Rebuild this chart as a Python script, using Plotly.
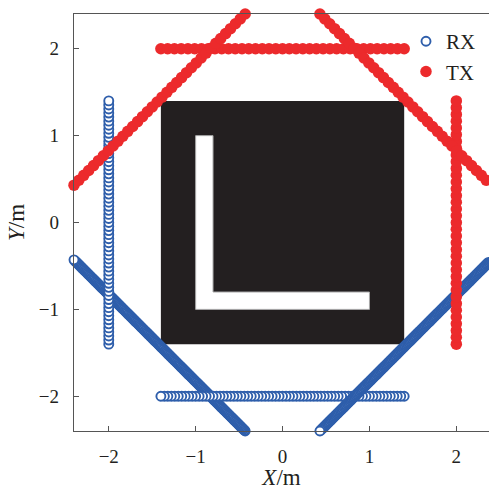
import numpy as np
import plotly.graph_objects as go

# Receiver (RX) sampling paths: start/end points and number of samples per path
rx_x_start = [-0.43, 1.40, -2.00, 2.40]
rx_y_start = [-2.40, -2.00, -1.40, -0.43]
rx_x_end = [-2.40, -1.40, -2.00, 0.43]
rx_y_end = [-0.43, -2.00, 1.40, -2.40]
rx_samples = [198, 71, 61, 198]

# Transmitter (TX) sampling paths
tx_x_start = [-1.40, 2.00, -2.40, 0.43]
tx_y_start = [2.00, -1.40, 0.43, 2.40]
tx_x_end = [1.40, 2.00, -0.43, 2.40]
tx_y_end = [2.00, 1.40, 2.40, 0.43]
tx_samples = [37, 37, 36, 36]

# Obstacle: square block with an L-shaped opening
block_x = [-1.4, 1.4]
block_y = [-1.4, 1.4]
opening_x = [-1.0, 1.0, 1.0, -0.8, -0.8, -1.0]
opening_y = [-1.0, -1.0, -0.8, -0.8, 1.0, 1.0]

x_ticks = [-2, -1, 0, 1, 2]
y_ticks = [-2, -1, 0, 1, 2]


def expand(xs, ys, xe, ye, counts):
    px, py = [], []
    for a, b, c, d, n in zip(xs, ys, xe, ye, counts):
        px.extend(np.linspace(a, c, n))
        py.extend(np.linspace(b, d, n))
    return px, py


rx_x, rx_y = expand(rx_x_start, rx_y_start, rx_x_end, rx_y_end, rx_samples)
tx_x, tx_y = expand(tx_x_start, tx_y_start, tx_x_end, tx_y_end, tx_samples)

BLUE = "#2e5eab"
RED = "#ec2a2c"
AXIS = "#555555"
INK = "#231f20"
SERIF = "Times New Roman, Liberation Serif, serif"

fig = go.Figure()
fig.add_trace(go.Scatter(
    x=rx_x, y=rx_y, mode="markers", name="RX", cliponaxis=False,
    marker=dict(symbol="circle", size=9, color="white",
                line=dict(color=BLUE, width=1.9)),
))
fig.add_trace(go.Scatter(
    x=tx_x, y=tx_y, mode="markers", name="TX", cliponaxis=False,
    marker=dict(symbol="circle", size=11.5, color=RED, line=dict(width=0)),
))

path = "M " + " L ".join(f"{x},{y}" for x, y in zip(opening_x, opening_y)) + " Z"
fig.add_shape(type="rect", x0=block_x[0], x1=block_x[1], y0=block_y[0], y1=block_y[1],
              fillcolor=INK, line=dict(width=0), layer="below")
fig.add_shape(type="path", path=path, fillcolor="white",
              line=dict(color="#a8a8a8", width=1), layer="below")

minus = lambda v: str(v).replace("-", "\u2212")

fig.update_layout(
    width=489, height=490,
    margin=dict(l=74, r=0, t=14, b=59),
    plot_bgcolor="white", paper_bgcolor="white",
    font=dict(family=SERIF, size=19, color=INK),
    showlegend=True,
    legend=dict(x=0.80, y=0.983, xanchor="left", yanchor="top",
                bgcolor="rgba(0,0,0,0)", font=dict(size=21),
                itemsizing="trace", tracegroupgap=0),
    xaxis=dict(range=[-2.4, 2.376], showline=True, linecolor=AXIS, linewidth=1.3,
               mirror=True, ticks="inside", ticklen=5, tickcolor=AXIS,
               tickvals=x_ticks, ticktext=[minus(v) for v in x_ticks],
               showgrid=False, zeroline=False, ticklabelstandoff=8,
               title=dict(text="<i>X</i>/m", standoff=8)),
    yaxis=dict(range=[-2.4, 2.4], showline=True, linecolor=AXIS, linewidth=1.3,
               mirror=False, ticks="inside", ticklen=5, tickcolor=AXIS,
               tickvals=y_ticks, ticktext=[minus(v) for v in y_ticks],
               showgrid=False, zeroline=False, ticklabelstandoff=10,
               title=dict(text="<i>Y</i>/m", standoff=7)),
)

fig.write_html("out.html")
